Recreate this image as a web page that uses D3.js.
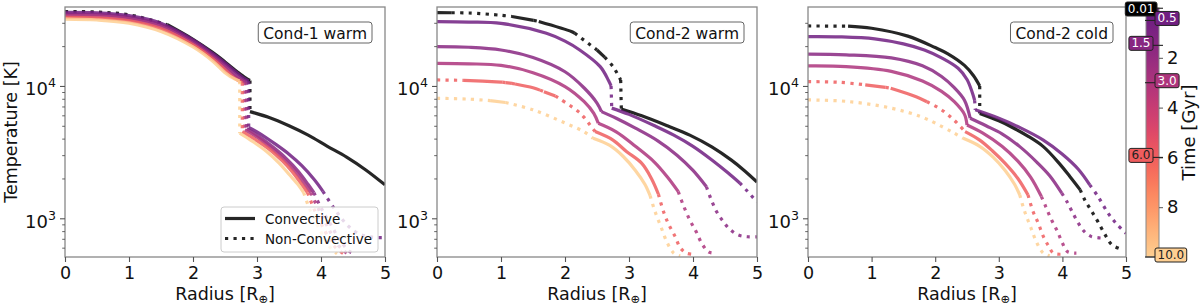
<!DOCTYPE html>
<html><head><meta charset="utf-8">
<script src="https://cdn.jsdelivr.net/npm/d3@7"></script>
<style>body{margin:0;background:#fff}text{font-family:"DejaVu Sans",sans-serif}</style>
</head><body><svg id="c" width="1200" height="305"></svg>
<script>
// ---------- data ----------
const times = [0.01, 0.5, 1.5, 3.0, 6.0, 10.0];
const timeLabels = ["0.01", "0.5", "1.5", "3.0", "6.0", "10.0"];
const panelTitles = ["Cond-1 warm", "Cond-2 warm", "Cond-2 cold"];
const xTicks = [0, 1, 2, 3, 4, 5];
const yMajor = [1000, 10000];
const yMinor = [600, 700, 800, 900, 2000, 3000, 4000, 5000, 6000, 7000, 8000, 9000, 20000, 30000];
const cbarTicks = [2, 4, 6, 8];
const legendLabels = ["Convective", "Non-Convective"];
// points: [radius, temperature, style of the following segment] (c/C convective, n/N non-convective)
const cond1Warm = [
 [[0,36500,'n'],[0.5,36200,'n'],[1.0,34500,'n'],[1.6,29000,'c'],[2.0,22500,'c'],[2.3,18000,'c'],[2.5,15200,'c'],[2.7,12700,'c'],[2.82,11500,'c'],[2.89,11000,'n'],[2.89,6400,'C'],[3.2,5750,'C'],[3.5,5000,'C'],[3.8,4250,'C'],[4.1,3500,'C'],[4.4,2900,'C'],[4.7,2320,'C'],[5.0,1790,'']],
 [[0,36000,'c'],[0.5,35700,'c'],[1.0,34000,'c'],[1.5,29800,'c'],[2.0,22300,'c'],[2.3,17700,'c'],[2.5,14900,'c'],[2.7,12400,'c'],[2.8,11400,'c'],[2.87,10900,'n'],[2.87,4850,'C'],[3.0,4500,'C'],[3.3,3600,'C'],[3.5,3050,'C'],[3.7,2500,'C'],[3.9,1950,'C'],[4.03,1600,'n'],[4.2,1200,'n'],[4.4,900,'n'],[4.6,760,'n'],[4.8,720,'n'],[4.95,715,'']],
 [[0,35000,'c'],[0.5,34700,'c'],[1.0,33000,'c'],[1.5,29000,'c'],[2.0,21700,'c'],[2.3,17200,'c'],[2.5,14400,'c'],[2.68,12000,'c'],[2.78,11100,'c'],[2.84,10800,'n'],[2.84,4750,'C'],[3.0,4250,'C'],[3.25,3450,'C'],[3.45,2850,'C'],[3.65,2250,'C'],[3.8,1800,'C'],[3.89,1560,'n'],[4.0,1200,'n'],[4.15,900,'n'],[4.3,680,'n'],[4.45,560,'n'],[4.55,540,'']],
 [[0,34000,'c'],[0.5,33700,'c'],[1.0,32000,'c'],[1.5,28000,'c'],[2.0,21000,'c'],[2.3,16700,'c'],[2.5,13800,'c'],[2.65,11800,'c'],[2.75,11000,'c'],[2.81,10700,'n'],[2.81,4650,'C'],[3.0,4100,'C'],[3.2,3450,'C'],[3.4,2850,'C'],[3.6,2250,'C'],[3.75,1800,'C'],[3.84,1560,'n'],[3.95,1200,'n'],[4.1,870,'n'],[4.25,640,'n'],[4.4,545,'']],
 [[0,33000,'c'],[0.5,32600,'c'],[1.0,31000,'c'],[1.5,27000,'c'],[2.0,20400,'c'],[2.3,16100,'c'],[2.5,13200,'c'],[2.63,11600,'c'],[2.72,10900,'c'],[2.77,10600,'n'],[2.77,4520,'C'],[2.95,4000,'C'],[3.2,3300,'C'],[3.4,2700,'C'],[3.55,2250,'C'],[3.7,1800,'C'],[3.79,1560,'n'],[3.9,1150,'n'],[4.05,820,'n'],[4.2,620,'n'],[4.35,540,'']],
 [[0,32000,'c'],[0.5,31500,'c'],[1.0,29800,'c'],[1.5,25800,'c'],[2.0,19700,'c'],[2.3,15500,'c'],[2.5,12600,'c'],[2.65,11300,'c'],[2.73,10900,'n'],[2.73,4400,'C'],[2.9,3900,'C'],[3.15,3200,'C'],[3.35,2600,'C'],[3.5,2150,'C'],[3.65,1780,'C'],[3.73,1560,'n'],[3.83,1150,'n'],[3.98,820,'n'],[4.12,620,'n'],[4.25,540,'']]
];
const cond2Warm = [
 [[0,35800,'c'],[0.23,35750,'n'],[0.5,35600,'n'],[1.0,34200,'n'],[1.17,33500,'c'],[1.51,31300,'n'],[1.59,30700,'c'],[2.1,25800,'c'],[2.15,25100,'n'],[2.5,18700,'c'],[2.62,16500,'n'],[2.75,14000,'n'],[2.87,11100,'N'],[2.88,6700,'C'],[3.2,5950,'C'],[3.6,5000,'C'],[3.95,4250,'C'],[4.3,3450,'C'],[4.6,2750,'C'],[4.8,2300,'C'],[5.0,1880,'']],
 [[0,30600,'c'],[0.5,30400,'c'],[1.0,29700,'c'],[1.71,25000,'c'],[2.0,21800,'c'],[2.23,18700,'c'],[2.55,14000,'c'],[2.68,11000,'c'],[2.72,10000,'n'],[2.73,6800,'C'],[3.0,6100,'C'],[3.4,5000,'C'],[3.7,4250,'C'],[4.0,3500,'C'],[4.3,2750,'C'],[4.55,2200,'C'],[4.73,1850,'n'],[4.85,1600,'n'],[5.0,1330,'']],
 [[0,19800,'c'],[0.5,19600,'c'],[1.0,18700,'c'],[1.5,16400,'c'],[2.0,12800,'c'],[2.3,9650,'c'],[2.5,7430,'c'],[2.57,6400,'C'],[2.8,5700,'C'],[3.1,4800,'C'],[3.45,3850,'C'],[3.75,3000,'C'],[4.0,2300,'C'],[4.21,1730,'n'],[4.28,1400,'n'],[4.37,1120,'n'],[4.47,950,'n'],[4.57,830,'n'],[4.7,750,'n'],[4.85,725,'n'],[5.0,725,'']],
 [[0,14800,'c'],[0.5,14700,'c'],[1.0,14300,'c'],[1.5,12600,'c'],[2.0,9900,'c'],[2.3,7600,'c'],[2.45,6200,'c'],[2.52,5220,'C'],[2.8,4500,'C'],[3.1,3500,'C'],[3.4,2650,'C'],[3.6,2050,'C'],[3.77,1590,'n'],[3.85,1250,'n'],[3.95,970,'n'],[4.05,790,'n'],[4.15,630,'n'],[4.25,555,'n'],[4.36,545,'']],
 [[0,11100,'n'],[0.42,11020,'c'],[1.0,10700,'c'],[1.02,10680,'n'],[1.07,10600,'c'],[1.17,10450,'n'],[1.22,10350,'c'],[1.5,9700,'c'],[1.61,9300,'n'],[1.67,9050,'c'],[1.85,8400,'n'],[2.21,6400,'n'],[2.31,5700,'n'],[2.4,5000,'n'],[2.47,4520,'C'],[2.75,3900,'C'],[2.96,3200,'C'],[3.2,2600,'C'],[3.35,2000,'C'],[3.46,1520,'n'],[3.54,1120,'n'],[3.62,900,'n'],[3.72,730,'n'],[3.8,600,'n'],[3.9,545,'n'],[4.02,535,'']],
 [[0,8070,'n'],[0.5,7950,'n'],[0.83,7750,'c'],[1.07,7500,'n'],[1.5,6600,'n'],[2.0,5250,'n'],[2.3,4500,'n'],[2.44,4020,'C'],[2.7,3550,'C'],[2.91,2930,'C'],[3.1,2300,'C'],[3.25,1800,'C'],[3.33,1480,'n'],[3.4,1150,'n'],[3.5,860,'n'],[3.6,650,'n'],[3.7,545,'n'],[3.8,520,'']]
];
const cond2Cold = [
 [[0,28400,'n'],[0.63,28300,'c'],[1.0,27300,'c'],[1.57,23800,'c'],[2.0,19500,'c'],[2.2,17500,'c'],[2.46,14300,'c'],[2.6,12000,'c'],[2.7,10000,'n'],[2.7,6200,'C'],[3.0,5450,'C'],[3.2,4900,'C'],[3.45,4200,'C'],[3.7,3480,'C'],[3.95,2600,'C'],[4.12,2060,'C'],[4.28,1640,'n'],[4.35,1380,'n'],[4.45,1150,'n'],[4.56,940,'n'],[4.68,740,'n'],[4.78,630,'n'],[4.92,585,'']],
 [[0,23600,'c'],[0.5,23500,'c'],[1.05,22700,'c'],[1.5,20800,'c'],[1.83,18700,'c'],[2.1,16300,'c'],[2.36,13600,'c'],[2.5,11200,'c'],[2.58,9000,'c'],[2.62,7800,'n'],[2.63,6600,'C'],[3.0,5700,'C'],[3.35,4800,'C'],[3.7,3900,'C'],[4.0,3050,'C'],[4.25,2350,'C'],[4.43,1790,'n'],[4.56,1460,'n'],[4.72,1090,'n'],[4.85,910,'n'],[5.0,770,'']],
 [[0,17400,'c'],[0.6,17200,'c'],[1.31,16300,'c'],[1.8,14200,'c'],[2.1,11800,'c'],[2.3,9700,'c'],[2.46,7800,'c'],[2.55,5700,'C'],[2.8,5000,'C'],[3.05,4350,'C'],[3.33,3480,'C'],[3.6,2650,'C'],[3.8,2100,'C'],[3.99,1550,'n'],[4.07,1340,'n'],[4.15,1130,'n'],[4.25,920,'n'],[4.35,790,'n'],[4.45,730,'n'],[4.6,710,'']],
 [[0,14160,'c'],[0.6,14000,'c'],[1.31,12900,'c'],[1.8,10900,'c'],[2.1,9100,'c'],[2.3,7600,'c'],[2.46,6100,'c'],[2.5,5070,'C'],[2.75,4400,'C'],[3.05,3500,'C'],[3.3,2700,'C'],[3.5,2050,'C'],[3.67,1460,'n'],[3.74,1220,'n'],[3.83,970,'n'],[3.92,800,'n'],[4.0,650,'n'],[4.08,560,'n'],[4.22,545,'']],
 [[0,10780,'n'],[0.5,10650,'n'],[0.9,10200,'c'],[1.22,9750,'n'],[1.3,9620,'c'],[1.7,8300,'c'],[1.87,7600,'n'],[2.1,6600,'n'],[2.3,5500,'n'],[2.47,4520,'C'],[2.7,3900,'C'],[2.91,3200,'C'],[3.1,2600,'C'],[3.3,2000,'C'],[3.46,1500,'n'],[3.54,1120,'n'],[3.62,920,'n'],[3.7,730,'n'],[3.78,620,'n'],[3.86,545,'n'],[3.97,535,'']],
 [[0,7840,'n'],[0.6,7650,'n'],[1.31,6800,'n'],[1.8,5800,'n'],[2.1,4950,'n'],[2.3,4400,'n'],[2.44,4020,'C'],[2.7,3500,'C'],[2.91,2900,'C'],[3.1,2300,'C'],[3.25,1800,'C'],[3.33,1500,'n'],[3.4,1150,'n'],[3.5,860,'n'],[3.6,650,'n'],[3.7,545,'n'],[3.8,520,'']]
];

// ---------- drawing ----------
const svg = d3.select('#c');
const defs = svg.append('defs');
const panels = [cond1Warm, cond2Warm, cond2Cold];
const panelX = [[65,385],[437,757],[808,1126]];
const yTop = 7, yBot = 257;
const LW = 3.2, OP = 0.85;
const FS = 17.5;
const color = t => t < 0.1 ? '#000' : d3.interpolateMagma(0.3 + 0.06 * t);
const FRAME = '#888', TICK = '#555';

function runs(pts) {
  const out = []; let cur = [pts[0]], f = pts[0][2];
  for (let i = 1; i < pts.length; i++) {
    const p = pts[i]; cur.push(p);
    if (i < pts.length - 1 && p[2] !== f) { out.push({f, pts: cur}); cur = [p]; f = p[2]; }
  }
  out.push({f, pts: cur});
  return out;
}
function measure(str, size) {
  const t = svg.append('text').attr('font-size', size).text(str);
  const w = t.node().getComputedTextLength(); t.remove(); return w;
}

panels.forEach((data, pi) => {
  const [x0, x1] = panelX[pi];
  const x = d3.scaleLinear().domain([0, 5]).range([x0, x1]);
  const y = d3.scaleLog().domain([510, 39500]).range([yBot, yTop]);
  const line = d3.line().x(d => x(d[0])).y(d => y(d[1])).curve(d3.curveCatmullRom.alpha(0.5));
  const cid = 'clip' + pi;
  defs.append('clipPath').attr('id', cid).append('rect')
    .attr('x', x0).attr('y', yTop).attr('width', x1 - x0).attr('height', yBot - yTop);
  const lg = svg.append('g').attr('clip-path', `url(#${cid})`);
  data.forEach((pts, ti) => {
    runs(pts).forEach(r => {
      const dotted = r.f.toLowerCase() === 'n';
      lg.append('path').attr('d', line(r.pts)).attr('fill', 'none')
        .attr('stroke', color(times[ti])).attr('stroke-opacity', OP)
        .attr('stroke-width', LW).attr('stroke-linejoin', 'round')
        .attr('stroke-linecap', 'butt')
        .attr('stroke-dasharray', dotted ? `${LW},${LW*1.65}` : null);
    });
  });
  // frame
  svg.append('rect').attr('x', x0).attr('y', yTop).attr('width', x1 - x0).attr('height', yBot - yTop)
    .attr('fill', 'none').attr('stroke', FRAME).attr('stroke-width', 1.3);
  // x axis
  const xa = svg.append('g').attr('transform', `translate(0,${yBot})`)
    .call(d3.axisBottom(x).tickValues(xTicks).tickSize(5).tickPadding(5).tickFormat(d3.format('d')));
  xa.select('.domain').remove();
  xa.selectAll('line').attr('stroke', TICK).attr('stroke-width', 1.1);
  xa.selectAll('text').attr('font-size', FS).attr('font-family', '"DejaVu Sans"').attr('fill', '#111');
  // y axis majors & minors
  const ya = svg.append('g').attr('transform', `translate(${x0},0)`)
    .call(d3.axisLeft(y).tickValues(yMajor).tickSize(5).tickFormat(''));
  ya.select('.domain').remove();
  ya.selectAll('line').attr('stroke', TICK).attr('stroke-width', 1.1);
  const ym = svg.append('g').attr('transform', `translate(${x0},0)`)
    .call(d3.axisLeft(y).tickValues(yMinor).tickSize(2.8).tickFormat(''));
  ym.select('.domain').remove();
  ym.selectAll('line').attr('stroke', TICK).attr('stroke-width', 0.9);
  yMajor.forEach(v => {
    const t = svg.append('text').attr('x', x0 - 9).attr('y', y(v) + 9.5)
      .attr('text-anchor', 'end').attr('font-size', 18).attr('fill', '#111');
    t.append('tspan').text('10');
    t.append('tspan').attr('dy', -8).attr('font-size', 12.6).text(String(Math.round(Math.log10(v))));
  });
  // x label
  const xl = svg.append('text').attr('x', (x0 + x1) / 2).attr('y', 300).attr('text-anchor', 'middle')
    .attr('font-size', FS).attr('fill', '#111');
  xl.append('tspan').text('Radius [R');
  xl.append('tspan').attr('dy', 2.5).attr('font-size', 11.5).text('⊕');
  xl.append('tspan').attr('dy', -2.5).text(']');
  // title box
  const tw = measure(panelTitles[pi], 15.5);
  const bx1 = x1 - 13, bx0 = bx1 - tw - 10;
  svg.append('rect').attr('x', bx0).attr('y', 22).attr('width', bx1 - bx0).attr('height', 21)
    .attr('rx', 3).attr('fill', '#fff').attr('stroke', '#666').attr('stroke-width', 1);
  svg.append('text').attr('font-size', 15.5).attr('fill', '#111').attr('x', bx0 + 5).attr('y', 38.5).text(panelTitles[pi]);
  if (pi === 0) {
    svg.append('text').attr('transform', `translate(17,${(yTop + yBot) / 2}) rotate(-90)`)
      .attr('text-anchor', 'middle').attr('font-size', FS).attr('fill', '#111').text('Temperature [K]');
    // legend
    const lgd = svg.append('g');
    lgd.append('rect').attr('x', 221).attr('y', 207).attr('width', 157).attr('height', 45).attr('rx', 3)
      .attr('fill', '#fff').attr('fill-opacity', 0.8).attr('stroke', '#ccc').attr('stroke-width', 1);
    [0, 1].forEach(i => {
      const yy = 218.5 + i * 20;
      lgd.append('line').attr('x1', 225).attr('x2', 255).attr('y1', yy).attr('y2', yy)
        .attr('stroke', '#000').attr('stroke-opacity', OP).attr('stroke-width', LW)
        .attr('stroke-dasharray', i ? `${LW},${LW*1.65}` : null);
      lgd.append('text').attr('x', 265).attr('y', yy + 5).attr('font-size', 13.5).attr('fill', '#111').text(legendLabels[i]);
    });
  }
});

// ---------- colorbar ----------
const cb = d3.scaleLinear().domain([0, 10]).range([8, 257]);
const cbx0 = 1146, cbx1 = 1159;
const grad = defs.append('linearGradient').attr('id', 'cbg').attr('x1', 0).attr('y1', 0).attr('x2', 0).attr('y2', 1);
d3.range(0, 21).forEach(i => grad.append('stop').attr('offset', i / 20).attr('stop-color', d3.interpolateMagma(0.3 + 0.6 * i / 20)));
svg.append('rect').attr('x', cbx0).attr('y', cb(0)).attr('width', cbx1 - cbx0).attr('height', cb(10) - cb(0))
  .attr('fill', 'url(#cbg)').attr('stroke', FRAME).attr('stroke-width', 1);
const ca = svg.append('g').attr('transform', `translate(${cbx1},0)`)
  .call(d3.axisRight(cb).tickValues(cbarTicks).tickSize(4).tickPadding(4).tickFormat(d3.format('d')));
ca.select('.domain').remove();
ca.selectAll('line').attr('stroke', TICK);
ca.selectAll('text').attr('font-size', 18).attr('font-family', '"DejaVu Sans"').attr('fill', '#111');
svg.append('text').attr('transform', `translate(1195,${(8 + 257) / 2}) rotate(-90)`)
  .attr('text-anchor', 'middle').attr('font-size', 18).attr('fill', '#111').text('Time [Gyr]');
// time labels on the colorbar
const leftSide = [true, false, true, false, true, false];
times.forEach((t) => {
  const yy = cb(t);
  svg.append('line').attr('x1', cbx0 - 1).attr('x2', cbx1 + 4).attr('y1', yy).attr('y2', yy)
    .attr('stroke', '#222').attr('stroke-width', 1.1);
});
times.forEach((t, i) => {
  const yy = cb(t);
  const w = measure(timeLabels[i], 12) + 5, h = 14;
  const bx = leftSide[i] ? (i === 0 ? 1157 : 1153) - w : 1155;
  const by = Math.max(2, yy - 2 - h / 2);
  svg.append('rect').attr('x', bx).attr('y', by).attr('width', w).attr('height', h).attr('rx', 2)
    .attr('fill', color(t)).attr('stroke', '#222').attr('stroke-width', 1);
  svg.append('text').attr('font-size', 12).attr('fill', t >= 5 ? '#222' : '#fff')
    .attr('x', bx + 2.5).attr('y', by + 11).text(timeLabels[i]);
});
</script></body></html>
